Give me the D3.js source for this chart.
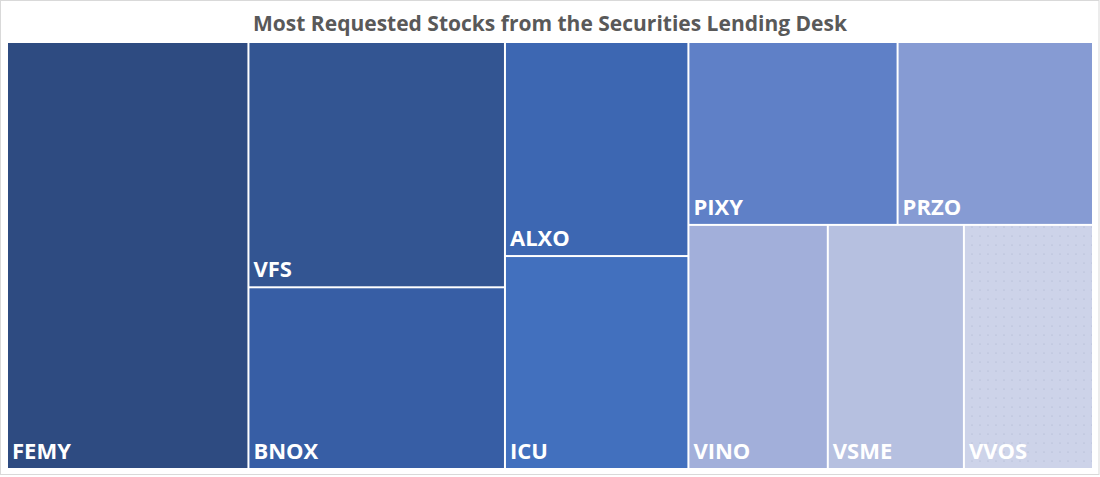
<!DOCTYPE html>
<html>
<head>
<meta charset="utf-8">
<script src="https://cdn.jsdelivr.net/npm/d3@7"></script>
<style>
  html, body { margin: 0; padding: 0; background: #fff; }
  svg { display: block; }
</style>
</head>
<body>
<svg id="chart" width="1100" height="477"></svg>
<script>
const tickers = ["FEMY", "VFS", "BNOX", "ALXO", "ICU", "PIXY", "PRZO", "VINO", "VSME", "VVOS"];
const requests = [102.4, 62.5, 46.3, 39.0, 38.8, 38.0, 35.5, 33.8, 33.0, 31.3];
const colors = ["#2E4B81", "#335592", "#375EA5", "#3D67B2", "#4270BE", "#5F80C7", "#869BD3", "#A2AFDA", "#B6C0E0", "#CDD3E9"];
const title = "Most Requested Stocks from the Securities Lending Desk";

const W = 1100, H = 477;
const plot = { x: 8, y: 43, w: 1084, h: 425 };

const svg = d3.select("#chart");

svg.append("rect")
  .attr("x", 0.5).attr("y", 0.5).attr("width", W - 1.5).attr("height", H - 3)
  .attr("fill", "#fff").attr("stroke", "#d9d9d9").attr("stroke-width", 1);

const defs = svg.append("defs");
const pat = defs.append("pattern")
  .attr("id", "dots").attr("patternUnits", "userSpaceOnUse")
  .attr("width", 8).attr("height", 9);
pat.append("rect").attr("width", 8).attr("height", 9).attr("fill", colors[9]);
pat.append("circle").attr("cx", 4).attr("cy", 4).attr("r", 0.6).attr("fill", "#a9b1cb");

svg.append("text")
  .attr("x", W / 2).attr("y", 31)
  .attr("text-anchor", "middle")
  .attr("font-family", "'Open Sans', sans-serif")
  .attr("font-weight", 700)
  .attr("font-size", 21)
  .attr("fill", "#595959")
  .text(title);

const data = tickers.map((t, i) => ({ name: t, value: requests[i], color: colors[i], idx: i }));

const root = d3.hierarchy({ children: data })
  .sum(d => d.value || 0)
  .sort((a, b) => b.value - a.value);

d3.treemap()
  .size([plot.w, plot.h])
  .tile(d3.treemapSquarify.ratio(1))
  .paddingInner(2)
  (root);

const g = svg.append("g").attr("transform", `translate(${plot.x},${plot.y})`);

const cell = g.selectAll("g.cell").data(root.leaves()).join("g").attr("class", "cell");

cell.append("rect")
  .attr("x", d => d.x0).attr("y", d => d.y0)
  .attr("width", d => d.x1 - d.x0).attr("height", d => d.y1 - d.y0)
  .attr("fill", d => d.data.idx === 9 ? "url(#dots)" : d.data.color);

cell.append("text")
  .attr("x", d => d.x0 + 4)
  .attr("y", d => d.y1 - 9)
  .attr("font-family", "'Open Sans', sans-serif")
  .attr("font-weight", 700)
  .attr("font-size", 22)
  .attr("fill", "#fff")
  .text(d => d.data.name);
</script>
</body>
</html>
